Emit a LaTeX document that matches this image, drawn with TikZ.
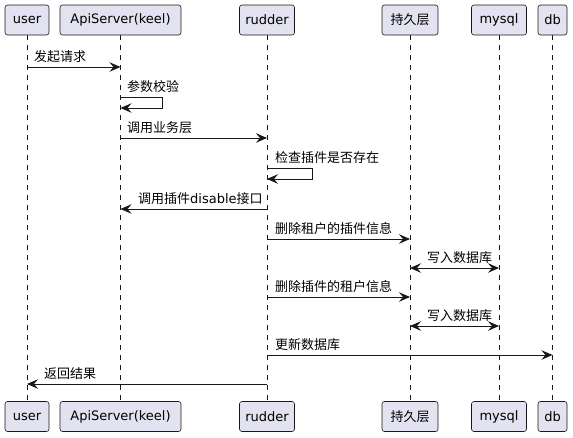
\documentclass[tikz,border=0pt]{standalone}
\usepackage{fontspec}
\setmainfont{DejaVu Sans}
\newfontfamily\cjk{Noto Sans CJK SC}
\usetikzlibrary{arrows.meta}
\definecolor{partfill}{HTML}{E2E2F0}
\definecolor{partline}{HTML}{181818}
\tikzset{
  part/.style={draw=partline, fill=partfill, line width=0.6pt, rounded corners=2.5pt,
    minimum height=30pt, inner sep=0pt, font=\fontsize{13}{15}\selectfont},
  lifeline/.style={draw=partline, line width=0.5pt, dash pattern=on 5pt off 5pt},
  tip/.tip={Stealth[length=11pt,width=9.5pt,inset=4pt]},
  msg/.style={draw=partline, line width=0.9pt, -tip},
  dmsg/.style={draw=partline, line width=0.9pt, tip-tip},
  lbl/.style={anchor=south west, inner sep=0pt, font=\fontsize{13}{15}\selectfont\cjk},
}
\begin{document}
\begin{tikzpicture}[x=1pt,y=-1pt]
\useasboundingbox (0,0) rectangle (573,437);
% top participants
\node[part, minimum width=44pt] (ut) at (27,20) {user};
\node[part, minimum width=121pt] (at) at (120.5,20) {ApiServer(keel)};
\node[part, minimum width=55pt] (rt) at (267,20) {rudder};
\node[part, minimum width=56pt] (pt) at (410,20) {{\cjk 持久层}};
\node[part, minimum width=55pt] (mt) at (499,20) {mysql};
\node[part, minimum width=29pt] (dt) at (552.5,20) {db};
% bottom participants
\node[part, minimum width=44pt] (ub) at (27,416.5) {user};
\node[part, minimum width=121pt] (ab) at (120.5,416.5) {ApiServer(keel)};
\node[part, minimum width=55pt] (rb) at (267,416.5) {rudder};
\node[part, minimum width=56pt] (pb) at (410,416.5) {{\cjk 持久层}};
\node[part, minimum width=55pt] (mb) at (499,416.5) {mysql};
\node[part, minimum width=29pt] (db) at (552.5,416.5) {db};
% lifelines
\draw[lifeline] (ut.south) -- (ub.north);
\draw[lifeline] (at.south) -- (ab.north);
\draw[lifeline] (rt.south) -- (rb.north);
\draw[lifeline] (pt.south) -- (pb.north);
\draw[lifeline] (mt.south) -- (mb.north);
\draw[lifeline] (dt.south) -- (db.north);
% messages
\draw[msg] (ut |- 0,67) -- (at |- 0,67);
\node[lbl] (l1) at (34,63) {发起请求};
\draw[msg] (at |- 0,97) -- (162,97) -- (162,108) -- (at |- 0,108);
\node[lbl] (l2) at (127,93) {参数校验};
\draw[msg] (at |- 0,138) -- (rt |- 0,138);
\node[lbl] (l3) at (127,134) {调用业务层};
\draw[msg] (rt |- 0,168) -- (312,168) -- (312,179) -- (rt |- 0,179);
\node[lbl] (l4) at (275,164) {检查插件是否存在};
\draw[msg] (rt |- 0,209) -- (at |- 0,209);
\node[lbl] (l5) at (138,205) {调用插件{\rmfamily disable}接口};
\draw[msg] (rt |- 0,239) -- (pt |- 0,239);
\node[lbl] (l6) at (275,235) {删除租户的插件信息};
\draw[dmsg] (pt |- 0,268) -- (mt |- 0,268);
\node[lbl] (l7) at (427,264) {写入数据库};
\draw[msg] (rt |- 0,297) -- (pt |- 0,297);
\node[lbl] (l8) at (275,293) {删除插件的租户信息};
\draw[dmsg] (pt |- 0,326) -- (mt |- 0,326);
\node[lbl] (l9) at (427,322) {写入数据库};
\draw[msg] (rt |- 0,355) -- (dt |- 0,355);
\node[lbl] (l10) at (275,351) {更新数据库};
\draw[msg] (rt |- 0,384) -- (ut |- 0,384);
\node[lbl] (l11) at (44,380) {返回结果};
\end{tikzpicture}
\end{document}
